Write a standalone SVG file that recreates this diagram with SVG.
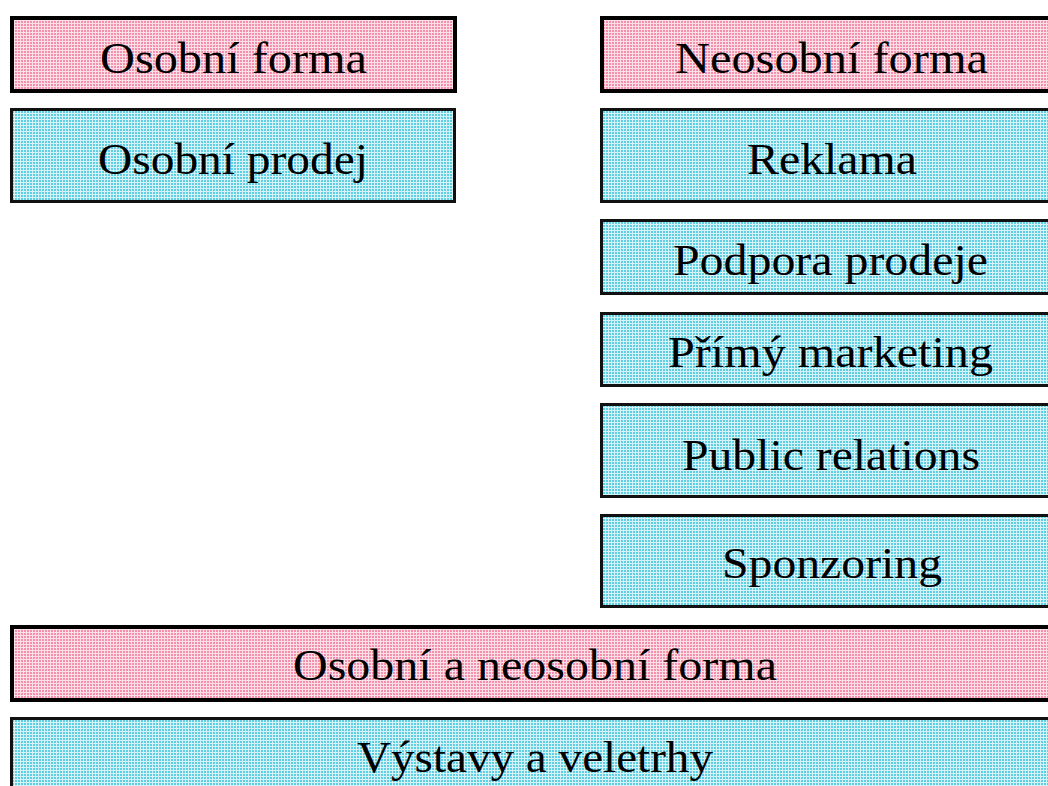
<svg xmlns="http://www.w3.org/2000/svg" width="1048" height="786" viewBox="0 0 1048 786">
<defs>
<pattern id="pinkDots" width="3" height="3" patternUnits="userSpaceOnUse">
<rect width="3" height="3" fill="#fde0e7"/>
<rect width="2" height="2" fill="#f590ac"/>
</pattern>
<pattern id="cyanDots" width="3" height="3" patternUnits="userSpaceOnUse">
<rect width="3" height="3" fill="#d6f3f8"/>
<rect width="2" height="2" fill="#5fcde2"/>
</pattern>
</defs>
<style>
.pink{fill:url(#pinkDots);stroke:#000;stroke-width:4}
.cyan{fill:url(#cyanDots);stroke:#111;stroke-width:3}
.lbl{font-family:"Liberation Serif","Times New Roman",serif;font-size:45px;fill:#000;text-anchor:start}
</style>
<rect width="1048" height="786" fill="#fff"/>
<g id="osobni-forma">
<rect class="pink" x="12" y="18" width="443" height="73"/>
<text class="lbl" x="100" y="73" textLength="267" lengthAdjust="spacingAndGlyphs">Osobní forma</text>
</g>
<g id="osobni-prodej">
<rect class="cyan" x="11.5" y="109.5" width="443" height="92"/>
<text class="lbl" x="98" y="174" textLength="270" lengthAdjust="spacingAndGlyphs">Osobní prodej</text>
</g>
<g id="neosobni-forma">
<rect class="pink" x="602" y="18" width="470" height="73"/>
<text class="lbl" x="675" y="73" textLength="313" lengthAdjust="spacingAndGlyphs">Neosobní forma</text>
</g>
<g id="reklama">
<rect class="cyan" x="601.5" y="109.5" width="470" height="92"/>
<text class="lbl" x="747" y="174" textLength="170" lengthAdjust="spacingAndGlyphs">Reklama</text>
</g>
<g id="podpora-prodeje">
<rect class="cyan" x="601.5" y="220.5" width="470" height="73"/>
<text class="lbl" x="673" y="275" textLength="315" lengthAdjust="spacingAndGlyphs">Podpora prodeje</text>
</g>
<g id="primy-marketing">
<rect class="cyan" x="601.5" y="313.5" width="470" height="72"/>
<text class="lbl" x="668" y="367" textLength="325" lengthAdjust="spacingAndGlyphs">Přímý marketing</text>
</g>
<g id="public-relations">
<rect class="cyan" x="601.5" y="404.5" width="470" height="92"/>
<text class="lbl" x="682" y="470" textLength="298" lengthAdjust="spacingAndGlyphs">Public relations</text>
</g>
<g id="sponzoring">
<rect class="cyan" x="601.5" y="515.5" width="470" height="91"/>
<text class="lbl" x="722" y="578" textLength="220" lengthAdjust="spacingAndGlyphs">Sponzoring</text>
</g>
<g id="osobni-a-neosobni-forma">
<rect class="pink" x="12" y="627" width="1060" height="73"/>
<text class="lbl" x="293" y="680" textLength="484" lengthAdjust="spacingAndGlyphs">Osobní a neosobní forma</text>
</g>
<g id="vystavy-a-veletrhy">
<rect class="cyan" x="11.5" y="718.5" width="1060" height="100"/>
<text class="lbl" x="357" y="772" textLength="356" lengthAdjust="spacingAndGlyphs">Výstavy a veletrhy</text>
</g>
<g id="connectors"/>
</svg>
